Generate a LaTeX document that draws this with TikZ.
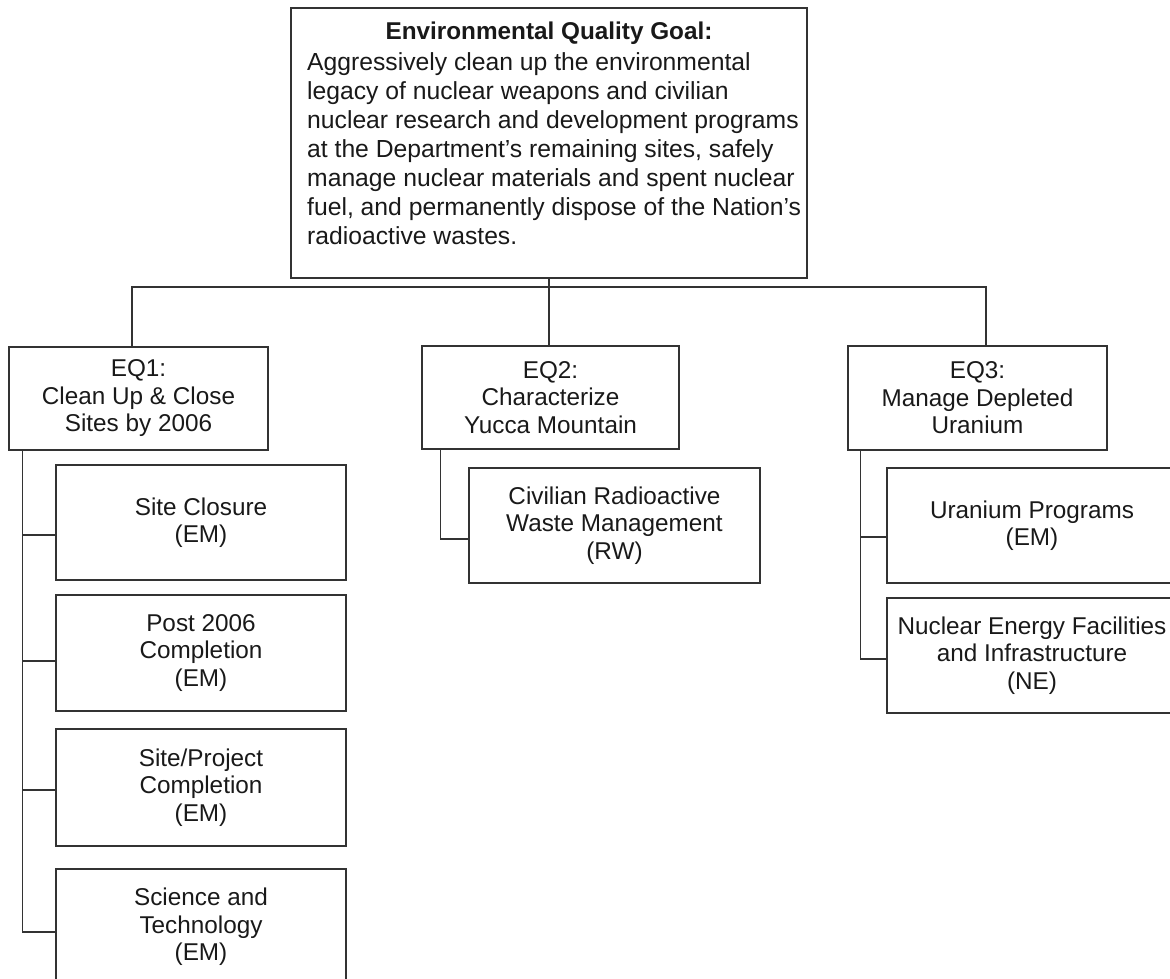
\documentclass[tikz,border=0pt]{standalone}
\usepackage{fontspec}
\setmainfont{Liberation Sans}
\begin{document}
\begin{tikzpicture}[x=1pt,y=-1pt,
  line/.style={draw=black!80, line width=1.5pt},
  box/.style={line, rectangle, inner sep=0pt, align=center, text=black!90,
    font=\fontsize{24.3}{27.5}\selectfont},
  txt/.style={inner sep=0pt, text=black!90, font=\fontsize{24.7}{29}\selectfont},
]
\useasboundingbox (0,0) rectangle (1170,978);
\clip (0,0) rectangle (1170,978);
% goal
\node[box, minimum width=516, minimum height=270] (goal) at (549,143) {};
\node[txt, anchor=base, font=\fontsize{24.3}{28.5}\selectfont\bfseries] (title) at (549,39) {Environmental Quality Goal:};
\node[txt, anchor=north west, align=left] (body) at (307,52.5) {Aggressively clean up the environmental\\legacy of nuclear weapons and civilian\\nuclear research and development programs\\at the Department’s remaining sites, safely\\manage nuclear materials and spent nuclear\\fuel, and permanently dispose of the Nation’s\\radioactive wastes.};
% level 1
\node[box, minimum width=259, minimum height=103] (eq1) at (138.5,398.5) {EQ1:\\Clean Up \& Close\\Sites by 2006};
\node[box, minimum width=257, minimum height=103] (eq2) at (550.5,397.5) {EQ2:\\Characterize\\Yucca Mountain};
\node[box, minimum width=259, minimum height=104] (eq3) at (977.5,398) {EQ3:\\Manage Depleted\\Uranium};
% level 2
\node[box, minimum width=290, minimum height=115] (sc) at (201,522.5) {Site Closure\\(EM)};
\node[box, minimum width=290, minimum height=116] (p06) at (201,653) {Post 2006\\Completion\\(EM)};
\node[box, minimum width=290, minimum height=117] (spc) at (201,787.5) {Site/Project\\Completion\\(EM)};
\node[box, minimum width=290, minimum height=116] (sci) at (201,927) {Science and\\Technology\\(EM)};
\node[box, minimum width=291, minimum height=115] (rw) at (614.5,525.5) {Civilian Radioactive\\Waste Management\\(RW)};
\node[box, minimum width=290, minimum height=115] (up) at (1032,525.5) {Uranium Programs\\(EM)};
\node[box, minimum width=290, minimum height=115] (nef) at (1032,655.5) {Nuclear Energy Facilities\\and Infrastructure\\(NE)};
% connectors
\coordinate (bus) at (549,287);
\draw[line] (goal.south) -- (bus);
\draw[line] ([xshift=-6.5pt]eq1.north) |- (bus) -| ([xshift=8.5pt]eq3.north);
\draw[line] (bus) -- ([xshift=-1.5pt]eq2.north);
\draw[line] ([xshift=14pt]eq1.south west) |- ([yshift=-5pt]sci.west);
\draw[line] ([xshift=14pt]eq1.south west) |- ([yshift=-12.5pt]sc.west);
\draw[line] ([xshift=14pt]eq1.south west) |- ([yshift=-8pt]p06.west);
\draw[line] ([xshift=14pt]eq1.south west) |- ([yshift=-2.5pt]spc.west);
\draw[line] ([xshift=19pt]eq2.south west) |- ([yshift=-13.5pt]rw.west);
\draw[line] ([xshift=13pt]eq3.south west) |- ([yshift=-11.5pt]up.west);
\draw[line] ([xshift=13pt]eq3.south west) |- ([yshift=-3.5pt]nef.west);
\end{tikzpicture}
\end{document}
